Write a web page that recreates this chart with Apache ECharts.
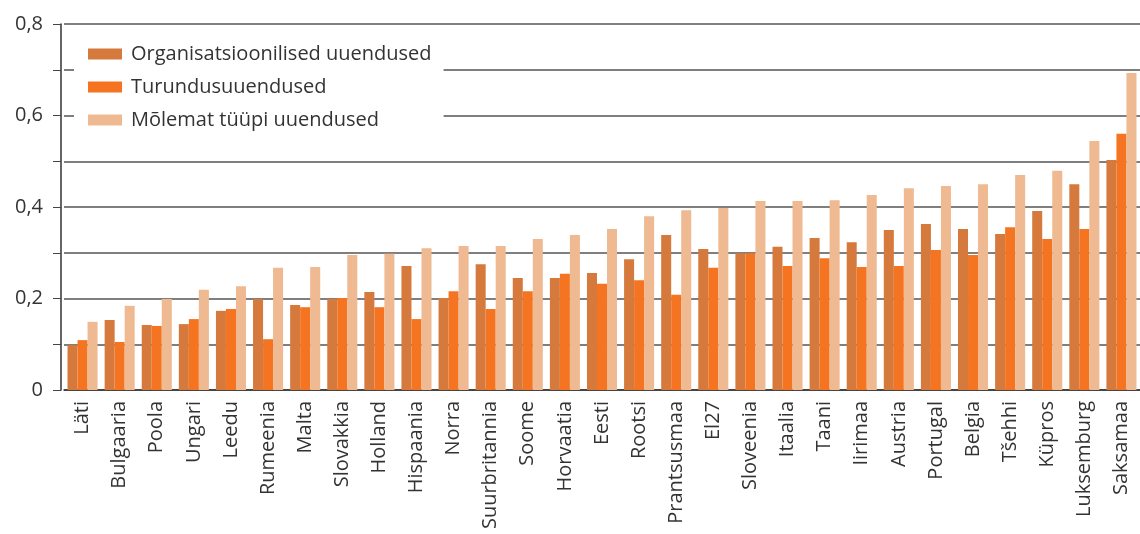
<!DOCTYPE html>
<html>
<head>
<meta charset="utf-8">
<script src="https://cdn.jsdelivr.net/npm/echarts@6/dist/echarts.min.js"></script>
<style>
  html, body { margin: 0; padding: 0; background: #fff; }
  #main { width: 1140px; height: 534px; }
</style>
</head>
<body>
<div id="main"></div>
<script type="text/javascript">
	// riikide nimed (x-telg)
	var categories = ['Läti', 'Bulgaaria', 'Poola', 'Ungari', 'Leedu', 'Rumeenia', 'Malta', 'Slovakkia',
		'Holland', 'Hispaania', 'Norra', 'Suurbritannia', 'Soome', 'Horvaatia', 'Eesti', 'Rootsi',
		'Prantsusmaa', 'El27', 'Sloveenia', 'Itaalia', 'Taani', 'Iirimaa', 'Austria', 'Portugal',
		'Belgia', 'Tšehhi', 'Küpros', 'Luksemburg', 'Saksamaa'];

	var organisatsioonilised = [0.098, 0.153, 0.142, 0.144, 0.173, 0.199, 0.186, 0.199, 0.214, 0.271,
		0.201, 0.275, 0.245, 0.245, 0.256, 0.286, 0.339, 0.308, 0.299, 0.313,
		0.332, 0.323, 0.350, 0.363, 0.352, 0.341, 0.391, 0.450, 0.503];

	var turundus = [0.109, 0.105, 0.140, 0.155, 0.177, 0.111, 0.181, 0.201, 0.181, 0.155,
		0.216, 0.177, 0.216, 0.254, 0.232, 0.240, 0.208, 0.267, 0.299, 0.271,
		0.288, 0.269, 0.271, 0.306, 0.295, 0.356, 0.330, 0.352, 0.560];

	var molemat = [0.149, 0.184, 0.199, 0.219, 0.227, 0.267, 0.269, 0.295, 0.298, 0.310,
		0.315, 0.315, 0.330, 0.339, 0.352, 0.380, 0.393, 0.398, 0.413, 0.413,
		0.415, 0.426, 0.441, 0.446, 0.450, 0.470, 0.479, 0.544, 0.693];

	var seriesNames = ['Organisatsioonilised uuendused', 'Turundusuuendused', 'Mõlemat tüüpi uuendused'];
	var colors = ['#d6793c', '#f47421', '#efb991'];

	var font = '"Open Sans", "Noto Sans", sans-serif';

	var chart = echarts.init(document.getElementById('main'));

	var option = {
		animation: false,
		color: colors,
		textStyle: { fontFamily: font },
		grid: { left: 64, right: 0, top: 24, bottom: 144, containLabel: false },
		legend: {
			orient: 'vertical',
			left: 74,
			top: 30,
			padding: [12, 12, 12, 14],
			backgroundColor: '#fff',
			itemWidth: 34,
			itemHeight: 11,
			itemGap: 9,
			icon: 'rect',
			textStyle: { fontSize: 20, color: '#333', lineHeight: 24, padding: [0, 0, 0, 4], fontFamily: font },
			data: seriesNames
		},
		xAxis: {
			type: 'category',
			data: categories,
			axisLine: { lineStyle: { color: '#333', width: 1.5 } },
			axisTick: { show: false },
			axisLabel: { rotate: 90, fontSize: 20, color: '#333', margin: 11, interval: 0, fontFamily: font }
		},
		yAxis: {
			type: 'value',
			min: 0,
			max: 0.8,
			interval: 0.1,
			offset: 3,
			axisLine: { show: true, lineStyle: { color: '#333', width: 1.5 } },
			axisTick: { show: true, length: 8, lineStyle: { color: '#444' } },
			splitLine: { lineStyle: { color: '#555', width: 1.5 } },
			axisLabel: {
				fontSize: 20, color: '#333', margin: 18, fontFamily: font,
				formatter: function (v) {
					var k = Math.round(v * 10);
					if (k % 2 !== 0) return '';
					if (k === 0) return '0';
					return (k / 10).toFixed(1).replace('.', ',');
				}
			}
		},
		series: [
			{ name: seriesNames[0], type: 'bar', data: organisatsioonilised, barGap: '0%', barCategoryGap: '19%' },
			{ name: seriesNames[1], type: 'bar', data: turundus, barGap: '0%', barCategoryGap: '19%' },
			{ name: seriesNames[2], type: 'bar', data: molemat, barGap: '0%', barCategoryGap: '19%' }
		]
	};
	chart.setOption(option);
</script>
</body>
</html>
